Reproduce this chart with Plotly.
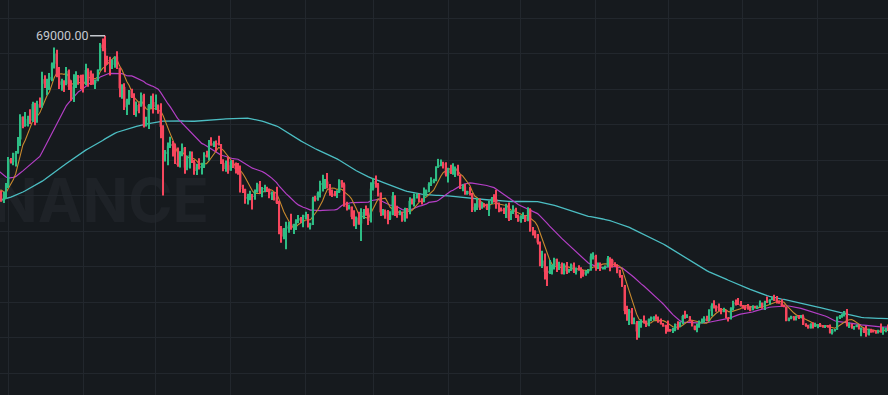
import pandas as pd
import plotly.graph_objects as go

# ---------------- data (BTC/USDT daily) ----------------
# closes before the visible window, only used to warm up the moving averages
WARMUP_CLOSE = [
    31600, 32500, 33700, 34660, 31590, 32280, 34700, 34490, 35910, 35040,
    33540, 33820, 34700, 35290, 33690, 34220, 33860, 32880, 33810, 33520, 34260, 33090, 32730, 32820, 31880, 31380,
    31520, 31780, 30840, 29790, 32140, 32290, 33640, 34260, 35430, 37270, 39460, 40020, 40020, 42240, 41460,
    39850, 39150, 38210, 39720, 40880, 42840, 44610, 43840, 46290, 45600, 45550, 44430, 47830, 47100, 47050, 45990,
    44690, 44740, 46760, 49340, 48870, 49290, 49530, 47710, 48970, 46940, 49070, 48900, 48810, 46990, 47150,
    48850, 49280, 50030, 49940, 51790, 52700, 46860, 46050, 46400, 44850, 45170, 46030, 44960, 47130, 48140, 47760,
    47300, 48310, 47260, 42990, 40690, 43560, 44890, 42840, 42720, 43210,
]
START, END = "2021-09-27", "2022-09-30"

OPEN = [
    43210, 42220, 41030, 41520,
    43790, 48140, 47630, 48200, 49220, 51470, 55320, 53800, 53970, 54950, 54660, 57490, 56010, 57370, 57350, 61670, 60880, 61530, 62040, 64280, 66000, 62210, 60690, 61290, 60860, 63080, 60330, 58450, 60590, 62250, 61860,
    61300, 60910, 63220, 62900, 61400, 60970, 61460, 63270, 67530, 66940, 64880, 64800, 64150, 64400, 65470, 63560, 60110, 60360, 56900, 58060, 59700, 58620, 56250, 57270, 57150, 58960, 53730, 54720, 57270, 57810,
    56990, 57230, 56510, 53600, 49150, 49400, 50440, 50590, 50470, 47540, 47140, 49390, 50100, 46710, 48340, 48860, 47630, 46130, 46830, 46680, 46910, 48890, 48590, 50840, 50430, 50800, 50720, 50640, 47540, 46470, 47120,
    46220, 47720, 47290, 46450, 45830, 43430, 43080, 41560, 41730, 41840, 41820, 42740, 43920, 42590, 43100, 43180, 43110, 42250, 42380, 41700, 40680, 36450, 35070, 36280, 36650, 36950, 36810, 37160, 37710, 38170, 37920,
    38480, 38740, 36950, 37310, 41570, 41380, 42410, 43840, 44040, 44370, 43570, 42410, 42240, 42050, 42540, 44580, 43900, 40520, 40000, 40100, 38390, 37040, 38270, 37260, 38330, 39220, 39120, 37700,
    43160, 44420, 43920, 42450, 39150, 39400, 38420, 37990, 38730, 41940, 39420, 38730, 38810, 37790, 39670, 39280, 41110, 40920, 41760, 42200, 41260, 41000, 42360, 42890, 43960, 44310, 44510, 46820, 47130, 47430, 47060,
    45510, 46280, 45810, 46410, 46580, 45500, 43170, 43440, 42250, 42750, 42160, 39530, 40070, 41150, 39940, 40550, 40380, 39680, 40800, 41500, 41360, 40480, 39710, 39470, 39450, 40430, 38120, 39240, 39740, 38600,
    37630, 38470, 38530, 37710, 39690, 36550, 36010, 35470, 34040, 30080, 31010, 29100, 29030, 29290, 30100, 31300, 29860, 30420, 28720, 30300, 29200, 29430, 30310, 29100, 29650, 29540, 29200, 28630, 29030, 29470, 31730,
    31800, 29800, 30450, 29700, 29860, 29910, 31370, 31130, 30200, 30110, 29090, 28420, 26570, 22490, 22140, 22580, 20380, 20470, 19020, 20550, 20720, 20710, 19990, 21110, 21230, 21500, 21030, 20730, 20250, 20100,
    19780, 19300, 19240, 19300, 20230, 20190, 20550, 21640, 21590, 21590, 20860, 19960, 19330, 20210, 20570, 20830, 21190, 20780, 22430, 23400, 23220, 23150, 22680, 22450, 22580, 21310, 21250, 22950, 23850, 23770, 23640,
    23290, 23270, 22990, 22820, 22620, 23310, 22950, 23180, 23810, 23150, 23960, 23940, 24400, 24440, 24310, 24100, 23860, 23340, 23190, 20830, 21140, 21520, 21400, 21530, 21370, 21560, 20240, 20040, 19550, 20290, 19800,
    20050, 20130, 19950, 19830, 20000, 19800, 18790, 19290, 19320, 21360, 21650, 21830, 22400, 20170, 20230, 19700, 19800, 20110, 19420, 19540, 18880, 18480, 19410, 19290, 18920, 18800, 19220, 19080, 19410, 19590,
]
HIGH = [
    44370, 42790, 42630, 44130,
    48500, 48360, 49230, 49530, 51890, 55750, 55340, 56100, 55490, 56560, 57840, 57690, 58000, 58550, 62930, 62330, 61720, 62700, 64490, 67000, 66640, 63730, 61750, 61490, 63710, 63290, 61500, 62500, 62980, 62360, 62400,
    62440, 64270, 63500, 63120, 62600, 61600, 63290, 67790, 68530, 69000, 65600, 65450, 64970, 65500, 66400, 63620, 60820, 60980, 58370, 59850, 60050, 59270, 57880, 57600, 59400, 59180, 55330, 57450, 58870, 59250,
    59050, 57390, 57600, 53870, 49700, 50940, 51940, 51200, 50800, 50100, 49480, 50800, 50210, 48700, 49500, 49440, 47990, 47360, 48300, 47540, 49330, 49570, 51380, 51860, 51160, 51280, 52090, 50700, 48140, 47900, 48550,
    47950, 47990, 47570, 47500, 47070, 43820, 43150, 42300, 42790, 42250, 43000, 44140, 44460, 43450, 43800, 43480, 43200, 42690, 42580, 43500, 41100, 36840, 36500, 37550, 37550, 38920, 37230, 38000, 38720, 38360, 38740,
    39270, 38860, 37390, 41770, 41940, 42660, 44500, 45500, 44800, 45820, 43930, 43000, 42760, 42880, 44750, 44580, 44200, 40960, 40480, 40140, 39490, 38470, 39250, 39850, 39730, 40300, 39860, 44230,
    44950, 45400, 44100, 42520, 39700, 39650, 39550, 39360, 42600, 42050, 40250, 39490, 39300, 39950, 39870, 41720, 41480, 42330, 42400, 42300, 41550, 43360, 43000, 44220, 45090, 44820, 46960, 48190, 48100, 47700, 47600,
    46700, 47210, 47440, 46890, 47200, 45510, 43900, 43970, 42800, 43430, 42410, 40700, 41560, 41500, 40890, 40710, 40620, 41100, 41760, 42200, 42980, 40800, 39990, 39930, 40620, 40800, 39470, 40370, 39920, 38800,
    38680, 39170, 38650, 40020, 39850, 36670, 36130, 35500, 34240, 32660, 32190, 30030, 31080, 30330, 31460, 31300, 30790, 30690, 30550, 30780, 29620, 30490, 30680, 29830, 30220, 29880, 29400, 29310, 29580, 32220, 32400,
    31990, 30690, 30680, 29960, 30170, 31770, 31560, 31330, 30700, 30390, 29440, 28580, 26880, 23360, 22800, 22980, 21370, 20790, 20820, 21090, 21720, 20880, 21230, 21560, 21610, 21870, 21540, 21200, 20440, 20140,
    20880, 19430, 19650, 20380, 20730, 20680, 21840, 22530, 21950, 21600, 20870, 20050, 20370, 20880, 21200, 21580, 21690, 22790, 23800, 24280, 23440, 23760, 22990, 23020, 22650, 21350, 23110, 24200, 24440, 24670, 24190,
    23510, 23460, 23650, 23230, 23450, 23350, 23400, 24250, 23930, 24220, 24920, 24450, 24890, 25210, 25000, 24250, 24450, 23600, 23210, 21380, 21690, 21520, 21680, 21820, 21820, 21880, 20390, 20140, 20420, 20580, 20490,
    20200, 20450, 20060, 20030, 20060, 20180, 19460, 19450, 21550, 21790, 21850, 22490, 22800, 20540, 20330, 19890, 20190, 20110, 19690, 19640, 19950, 19500, 19490, 19310, 19180, 19320, 20380, 19790, 19650, 20180,
]
LOW = [
    42110, 40930, 40750, 41410,
    43290, 47430, 47100, 46900, 49070, 50380, 53360, 53620, 53660, 54090, 54420, 53880, 54290, 56820, 56850, 60150, 58960, 59840, 61320, 63480, 62000, 60000, 59710, 59510, 60650, 59820, 58000, 57820, 60170, 60720, 59940,
    59400, 60620, 60380, 60680, 60720, 60000, 61310, 63100, 66380, 62820, 64100, 62300, 63400, 63580, 63400, 58600, 58370, 56470, 55600, 57350, 58470, 55610, 55320, 55890, 57000, 53500, 53660, 53260, 56700, 55880,
    56460, 55830, 51680, 42000, 47730, 47100, 50040, 48600, 47320, 46850, 46750, 48640, 45670, 46280, 46550, 47510, 45500, 45460, 46410, 45560, 46630, 48420, 47900, 50460, 50180, 49420, 50450, 47310, 46100, 46000, 45680,
    46200, 46650, 45700, 45500, 42500, 42430, 40610, 40500, 41200, 39650, 41270, 42450, 42310, 41720, 42560, 42580, 41540, 41250, 41140, 40550, 35440, 34010, 34600, 32920, 35700, 36230, 35510, 36160, 37300, 37350, 36630,
    38000, 36590, 36250, 37030, 40980, 41100, 41650, 42670, 43120, 43200, 41970, 41760, 41880, 41570, 42430, 43310, 40080, 39450, 39640, 38000, 36800, 36350, 37040, 34320, 38020, 38600, 37000, 37450,
    42850, 43330, 41830, 38550, 38620, 38090, 37160, 37870, 38650, 38540, 38230, 38660, 37580, 37580, 38120, 38820, 40500, 40130, 41510, 40910, 40500, 40870, 41820, 42560, 43610, 44070, 44420, 46660, 46950, 46550, 45200,
    44200, 45620, 45520, 45120, 45350, 43120, 42730, 42110, 42130, 42000, 39200, 39250, 39550, 39550, 39770, 39990, 39550, 38540, 40570, 40820, 39750, 39180, 39310, 38880, 38200, 37700, 37880, 38880, 38180, 37580,
    37390, 38050, 37510, 37670, 35860, 35260, 34790, 33710, 30030, 29730, 27790, 26700, 28750, 28630, 29480, 29090, 29420, 28690, 28670, 28730, 28950, 29250, 28900, 28650, 29290, 28020, 28280, 28450, 28820, 29300, 31200,
    29300, 29580, 29250, 29480, 29490, 29890, 29220, 29850, 29900, 28850, 28100, 26560, 21930, 20850, 20110, 20230, 20250, 17620, 17960, 19640, 20350, 19770, 19890, 20740, 20880, 21000, 20500, 20180, 19840, 18630,
    18970, 18980, 18780, 19040, 19300, 19760, 20240, 21180, 21300, 20650, 19880, 19240, 18910, 19640, 20380, 20480, 20760, 20760, 21580, 22900, 22340, 22500, 21940, 22260, 21250, 20710, 21040, 22570, 23410, 23500, 23230,
    22850, 22670, 22680, 22430, 22590, 22940, 22840, 23150, 22880, 22660, 23860, 23600, 24300, 24200, 23770, 23690, 23180, 23110, 20770, 20760, 21070, 20890, 20890, 21150, 21310, 20110, 19800, 19520, 19540, 19530, 19800,
    19560, 19760, 19660, 19600, 19640, 18680, 18510, 19020, 19300, 21110, 21350, 21560, 19860, 19620, 19500, 19320, 19750, 19340, 18230, 18760, 18120, 18360, 18800, 18840, 18620, 18680, 18820, 18470, 18880, 19150,
]
CLOSE = [
    42220, 41030, 41520, 43790,
    48140, 47630, 48200, 49220, 51470, 55320, 53800, 53970, 54950, 54660, 57490, 56010, 57370, 57350, 61670, 60880, 61530, 62040, 64280, 66000, 62210, 60690, 61290, 60860, 63080, 60330, 58450, 60590, 62250, 61860, 61300,
    60910, 63220, 62900, 61400, 60970, 61460, 63270, 67530, 66940, 64880, 64800, 64150, 64400, 65470, 63560, 60110, 60360, 56900, 58060, 59700, 58620, 56250, 57270, 57150, 58960, 53730, 54720, 57270, 57810, 56990,
    57230, 56510, 53600, 49150, 49400, 50440, 50590, 50470, 47540, 47140, 49390, 50100, 46710, 48340, 48860, 47630, 46130, 46830, 46680, 46910, 48890, 48590, 50840, 50430, 50800, 50720, 50640, 47540, 46470, 47120, 46220,
    47720, 47290, 46450, 45830, 43430, 43080, 41560, 41730, 41840, 41820, 42740, 43920, 42590, 43100, 43180, 43110, 42250, 42380, 41700, 40680, 36450, 35070, 36280, 36650, 36950, 36810, 37160, 37710, 38170, 37920, 38480,
    38740, 36950, 37310, 41570, 41380, 42410, 43840, 44040, 44370, 43570, 42410, 42240, 42050, 42540, 44580, 43900, 40520, 40000, 40100, 38390, 37040, 38270, 37260, 38330, 39220, 39120, 37700, 43160,
    44420, 43920, 42450, 39150, 39400, 38420, 37990, 38730, 41940, 39420, 38730, 38810, 37790, 39670, 39280, 41110, 40920, 41760, 42200, 41260, 41000, 42360, 42890, 43960, 44310, 44510, 46820, 47130, 47430, 47060, 45510,
    46280, 45810, 46410, 46580, 45500, 43170, 43440, 42250, 42750, 42160, 39530, 40070, 41150, 39940, 40550, 40380, 39680, 40800, 41500, 41360, 40480, 39710, 39470, 39450, 40430, 38120, 39240, 39740, 38600, 37630,
    38470, 38530, 37710, 39690, 36550, 36010, 35470, 34040, 30080, 31010, 29100, 29030, 29290, 30100, 31300, 29860, 30420, 28720, 30300, 29200, 29430, 30310, 29100, 29650, 29540, 29200, 28630, 29030, 29470, 31730, 31800,
    29800, 30450, 29700, 29860, 29910, 31370, 31130, 30200, 30110, 29090, 28420, 26570, 22490, 22140, 22580, 20380, 20470, 19020, 20550, 20720, 20710, 19990, 21110, 21230, 21500, 21030, 20730, 20250, 20100, 19780,
    19300, 19240, 19300, 20230, 20190, 20550, 21640, 21590, 21590, 20860, 19960, 19330, 20210, 20570, 20830, 21190, 20780, 22430, 23400, 23220, 23150, 22680, 22450, 22580, 21310, 21250, 22950, 23850, 23770, 23640, 23290,
    23270, 22990, 22820, 22620, 23310, 22950, 23180, 23810, 23150, 23960, 23940, 24400, 24440, 24310, 24100, 23860, 23340, 23190, 20830, 21140, 21520, 21400, 21530, 21370, 21560, 20240, 20040, 19550, 20290, 19800, 20050,
    20130, 19950, 19830, 20000, 19800, 18790, 19290, 19320, 21360, 21650, 21830, 22400, 20170, 20230, 19700, 19800, 20110, 19420, 19540, 18880, 18480, 19410, 19290, 18920, 18800, 19220, 19080, 19410, 19590, 19420,
]
MA_WINDOWS = [7, 25, 99]

# ---------------- styles ----------------
BG = "#161A1E"
GRID = "#22272D"
GREEN = "#2EBD85"
RED = "#F6465D"
MA_COLORS = {7: "#C98A2E", 25: "#B43FC6", 99: "#4CBEC3"}
MA_WIDTHS = {7: 1.1, 25: 1.2, 99: 1.3}
LABEL = "#C4C8CE"
WATERMARK = "#1E2227"
DAY_MS = 86400000
BODY_W = 0.86 * DAY_MS
WICK_W = 0.42 * DAY_MS

DATES = pd.date_range(START, END, freq="D")
n = len(DATES)
assert len(OPEN) == n and len(HIGH) == n and len(LOW) == n and len(CLOSE) == n, (n, len(OPEN), len(HIGH), len(LOW), len(CLOSE))

all_close = pd.Series(WARMUP_CLOSE + CLOSE, dtype=float)
nw = len(WARMUP_CLOSE)

fig = go.Figure()
for w in sorted(MA_WINDOWS, reverse=True):
    ma = all_close.rolling(w).mean().iloc[nw:].to_numpy()
    fig.add_trace(go.Scatter(x=DATES, y=ma, mode="lines", name=f"MA({w})",
                             line=dict(color=MA_COLORS[w], width=MA_WIDTHS[w]),
                             xaxis="x", yaxis="y", hoverinfo="skip"))

# candles: wick bars + body bars, on an overlay subplot so they sit above the MA lines
colors = [GREEN if c >= o else RED for o, c in zip(OPEN, CLOSE)]
fig.add_trace(go.Bar(x=DATES, base=LOW, y=[h - l for h, l in zip(HIGH, LOW)],
                     width=WICK_W, marker=dict(color=colors, line=dict(width=0)),
                     xaxis="x2", yaxis="y2", hoverinfo="skip"))
fig.add_trace(go.Bar(x=DATES, base=[min(o, c) for o, c in zip(OPEN, CLOSE)],
                     y=[abs(c - o) for o, c in zip(OPEN, CLOSE)],
                     width=BODY_W, marker=dict(color=colors, line=dict(width=0)),
                     customdata=list(zip(OPEN, HIGH, LOW, CLOSE)),
                     hovertemplate="O %{customdata[0]}<br>H %{customdata[1]}<br>L %{customdata[2]}<br>C %{customdata[3]}<extra></extra>",
                     xaxis="x2", yaxis="y2"))

# max high label
imax = max(range(n), key=lambda i: HIGH[i])
fig.add_annotation(x=DATES[imax], y=HIGH[imax], xref="x2", yref="y2",
                   text=f"{HIGH[imax]:.2f}", showarrow=True, arrowhead=0,
                   arrowwidth=1.4, arrowcolor=LABEL, ax=-15, ay=0,
                   xanchor="right", yanchor="middle",
                   font=dict(family="Roboto, Arial, sans-serif", size=12.5, color=LABEL))

# x / y windows
x_range = [pd.Timestamp("2021-09-27 12:30"), pd.Timestamp("2022-09-30 00:45")]
y_range = [8285, 75042]

common_x = dict(type="date", range=x_range, showticklabels=False, ticks="",
                zeroline=False, showline=False, fixedrange=True)
common_y = dict(range=y_range, showticklabels=False, ticks="",
                zeroline=False, showline=False, fixedrange=True)

fig.update_layout(
    width=888, height=395, autosize=False,
    margin=dict(l=0, r=0, t=0, b=0, pad=0),
    paper_bgcolor=BG, plot_bgcolor=BG,
    showlegend=False,
    barmode="overlay",
    xaxis=dict(**common_x, showgrid=True, gridcolor=GRID, gridwidth=1,
               tick0="2021-10-01", dtick="M1"),
    yaxis=dict(**common_y, showgrid=True, gridcolor=GRID, gridwidth=1,
               tick0=0, dtick=6000),
    xaxis2=dict(**common_x, overlaying="x", showgrid=False),
    yaxis2=dict(**common_y, overlaying="y", showgrid=False),
    shapes=[dict(type="rect", xref="paper", yref="paper",
                 x0=-0.6, x1=212 / 888, y0=0.40, y1=0.60,
                 line=dict(width=0), fillcolor="rgba(0,0,0,0)", layer="below",
                 label=dict(text="BINANCE", textposition="middle right", padding=0,
                            font=dict(family="Inter, Arial, sans-serif", size=60,
                                      color=WATERMARK, weight=700)))],
)

fig.write_html("out.html", config={"displayModeBar": False})
